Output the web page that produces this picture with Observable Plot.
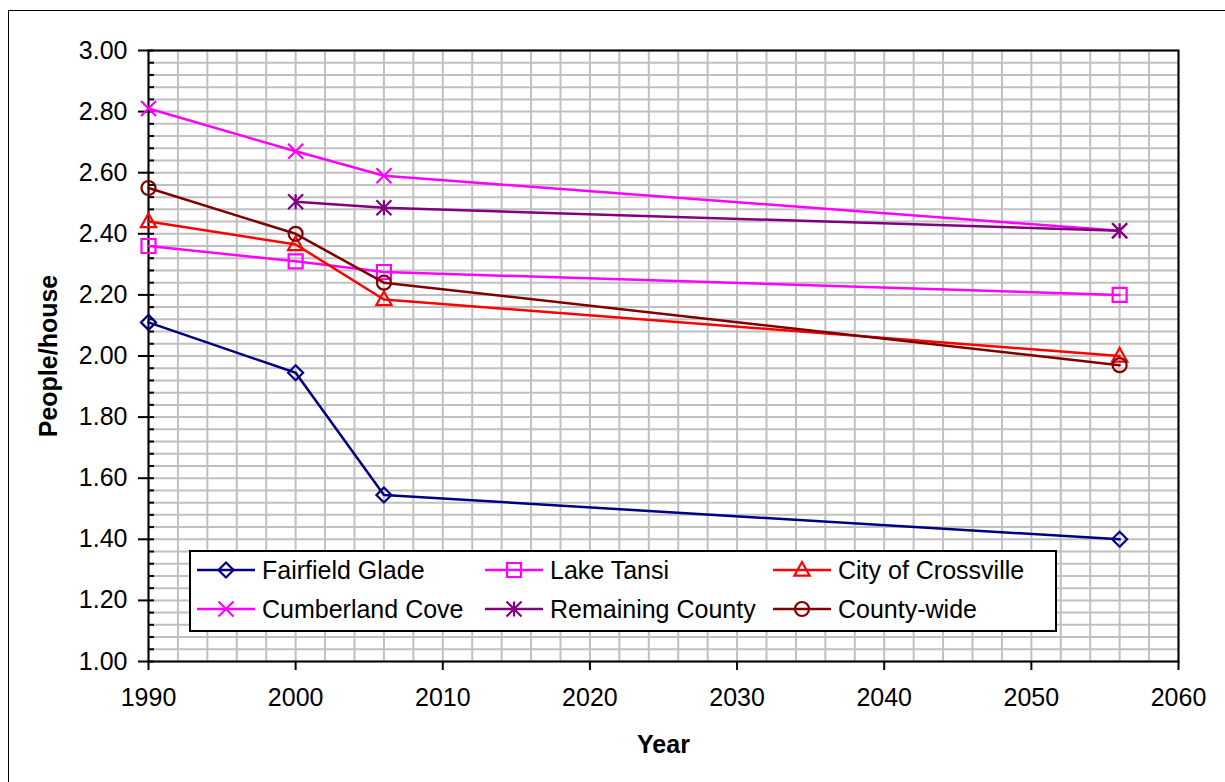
<!DOCTYPE html>
<html><head><meta charset="utf-8">
<script src="https://cdn.jsdelivr.net/npm/d3@7"></script>
<script src="https://cdn.jsdelivr.net/npm/@observablehq/plot@0.6"></script>
<style>
html,body{margin:0;padding:0;background:#fff;overflow:hidden}
#wrap{position:relative;width:1225px;height:782px;font-family:"Liberation Sans",Arial,sans-serif;}
#outer{position:absolute;left:8px;top:10px;width:1400px;height:1000px;border:1px solid #000;pointer-events:none}
#legend{position:absolute;left:189px;top:550px;width:864px;height:78px;border:2px solid #000;background:#fff;}
.item{position:absolute;display:flex;align-items:center;font-size:25px;height:30px;white-space:nowrap;color:#000}
.item svg{display:block;margin-right:7px}
</style></head>
<body><div id="wrap"><div id="chart"></div><div id="legend"></div><div id="outer"></div></div>
<script>
// ---- data ----
const years = [1990, 2000, 2006, 2056];
const seriesNames = ["Fairfield Glade", "Lake Tansi", "City of Crossville", "Cumberland Cove", "Remaining County", "County-wide"];
const fairfieldGlade  = [2.11, 1.945, 1.545, 1.40];
const lakeTansi       = [2.36, 2.31, 2.275, 2.20];
const cityOfCrossville = [2.44, 2.365, 2.185, 2.00];
const cumberlandCove  = [2.81, 2.67, 2.59, 2.41];
const remainingCounty = [null, 2.505, 2.485, 2.41];
const countyWide      = [2.55, 2.40, 2.24, 1.97];
const xTickLabels = [1990, 2000, 2010, 2020, 2030, 2040, 2050, 2060];
const yTickLabels = ["1.00","1.20","1.40","1.60","1.80","2.00","2.20","2.40","2.60","2.80","3.00"];

// ---- styles ----
const colors = ["#000080", "#FF00FF", "#FF0000", "#FF00FF", "#800080", "#800000"];
const P = Math.PI;
const rad = s => Math.sqrt(s / P);
const symbols = {
  diamond: {draw(c, s){const r = rad(s); c.moveTo(0,-r); c.lineTo(r,0); c.lineTo(0,r); c.lineTo(-r,0); c.closePath();}},
  square: {draw(c, s){const r = rad(s); c.moveTo(-r,-r); c.lineTo(r,-r); c.lineTo(r,r); c.lineTo(-r,r); c.closePath();}},
  triangle: {draw(c, s){const r = rad(s); c.moveTo(0,-r); c.lineTo(r*0.95,r*0.7); c.lineTo(-r*0.95,r*0.7); c.closePath();}},
  times: {draw(c, s){const r = rad(s); c.moveTo(-r,-r); c.lineTo(r,r); c.moveTo(-r,r); c.lineTo(r,-r);}},
  star: {draw(c, s){const r = rad(s); c.moveTo(-r,-r); c.lineTo(r,r); c.moveTo(-r,r); c.lineTo(r,-r); c.moveTo(0,-r); c.lineTo(0,r);}},
  circle: {draw(c, s){const r = rad(s); c.moveTo(r,0); c.arc(0,0,r,0,2*P);}}
};
const symbolList = [symbols.diamond, symbols.square, symbols.triangle, symbols.times, symbols.star, symbols.circle];
const symbolR = [7.5, 7, 8, 7.5, 7.5, 7];

const valueArrays = [fairfieldGlade, lakeTansi, cityOfCrossville, cumberlandCove, remainingCounty, countyWide];
const series = seriesNames.map((name, i) => ({
  name, color: colors[i], symbol: symbolList[i], r: symbolR[i],
  data: years.map((year, j) => ({year, value: valueArrays[i][j]})).filter(d => d.value != null)
}));

const xMinor = d3.range(1990, 2061, 2);
const yMinor = d3.range(0, 51).map(i => 1 + i * 0.04);
const yMajor = yTickLabels.map(Number);

const marks = [
  Plot.ruleX(xMinor, {stroke: "#c0c0c0", strokeWidth: 2}),
  Plot.ruleY(yMinor, {stroke: "#c0c0c0", strokeWidth: 2}),
  Plot.frame({stroke: "#000", strokeWidth: 2}),
  Plot.axisY(yMinor, {tickSize: -6, fill: "none", stroke: "#000", strokeWidth: 2, label: null}),
  Plot.axisY(yMajor, {tickSize: 10, tickPadding: 11, stroke: "#000", strokeWidth: 2, fill: "#000",
    tickFormat: d => d.toFixed(2), fontSize: 25, label: null}),
  Plot.axisX(xTickLabels, {tickSize: 9, tickPadding: 18, stroke: "#000", strokeWidth: 2, fill: "#000",
    tickFormat: d => String(d), fontSize: 25, label: null}),
  Plot.text(["People/house"], {text: d => d, frameAnchor: "left", dx: -100, rotate: -90,
    textAnchor: "middle", lineAnchor: "middle", fontSize: 25, fontWeight: "bold", fill: "#000"}),
  Plot.text(["Year"], {text: d => d, frameAnchor: "bottom", dy: 83,
    textAnchor: "middle", lineAnchor: "middle", fontSize: 25, fontWeight: "bold", fill: "#000"})
];
for (const s of series) {
  marks.push(Plot.line(s.data, {x: "year", y: "value", stroke: s.color, strokeWidth: 2.5}));
  marks.push(Plot.dot(s.data, {x: "year", y: "value", stroke: s.color, strokeWidth: 2.2, fill: "none",
    symbol: s.symbol, r: s.r}));
}

const chart = Plot.plot({
  width: 1225, height: 782,
  marginLeft: 148, marginRight: 47, marginTop: 50, marginBottom: 121,
  x: {domain: [1990, 2060]},
  y: {domain: [1, 3]},
  style: {fontFamily: "'Liberation Sans', Arial, sans-serif", color: "#000", background: "transparent", overflow: "visible"},
  marks
});
document.getElementById("chart").appendChild(chart);

// ---- legend ----
const legend = document.getElementById("legend");
const colX = [197, 485, 773];
const rowY = [570, 609];
series.forEach((s, i) => {
  const col = i % 3, row = Math.floor(i / 3);
  const item = document.createElement("div");
  item.className = "item";
  item.style.left = (colX[col] - 189 - 2) + "px";
  item.style.top = (rowY[row] - 15 - 550 - 2) + "px";
  const path = d3.symbol(s.symbol, P * s.r * s.r)();
  item.innerHTML = `<svg width="58" height="30"><line x1="0" x2="58" y1="15" y2="15" stroke="${s.color}" stroke-width="2.5"/>` +
    `<path d="${path}" transform="translate(29,15)" fill="none" stroke="${s.color}" stroke-width="2.2"/></svg>`;
  const label = document.createElement("span");
  label.textContent = s.name;
  item.appendChild(label);
  legend.appendChild(item);
});
</script>
</body></html>
